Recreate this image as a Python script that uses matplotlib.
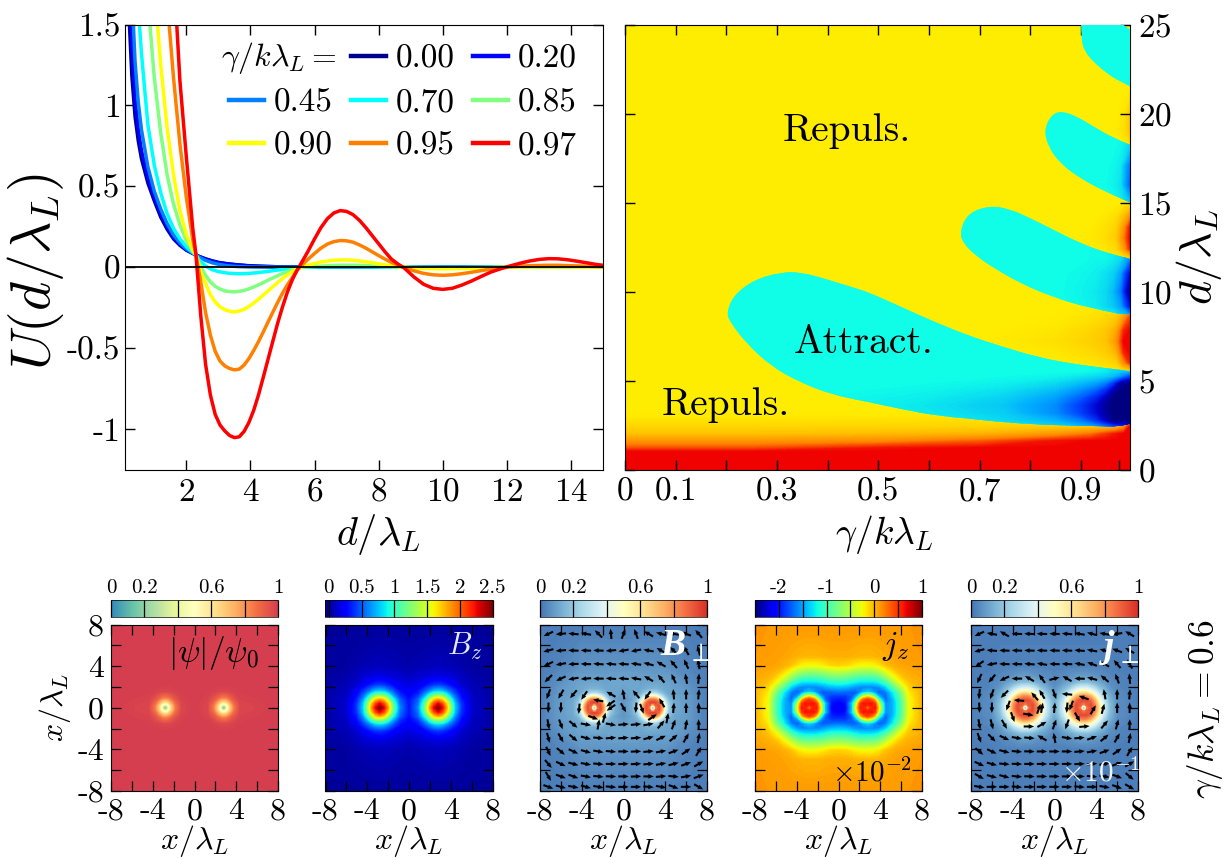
import numpy as np
import matplotlib
matplotlib.use("Agg")
from matplotlib import pyplot as plt
from matplotlib.cm import ScalarMappable
from matplotlib.colors import LinearSegmentedColormap, Normalize
from matplotlib.lines import Line2D
from matplotlib.patches import PathPatch
from matplotlib.path import Path

plt.rcParams['font.family'] = ['cmr10', 'DejaVu Serif']
plt.rcParams['mathtext.fontset'] = 'cm'
plt.rcParams['axes.unicode_minus'] = False
plt.rcParams['axes.formatter.use_mathtext'] = True

W, H = 1229, 858
nan = float('nan')

# top left: interaction curves
d_head = [0.2, 0.3, 0.4, 0.5, 0.6, 0.8, 1.0, 1.2, 1.4, 1.6, 1.8, 2.0, 2.2, 2.3]
d_coarse = d_head + [2.4, 2.6, 2.8, 3.0, 3.3, 3.6, 3.9, 4.2, 4.5, 4.8, 5.1, 5.4, 5.55, 5.8, 6.1, 6.5, 6.9,
                     7.3, 7.7, 8.1, 8.5, 8.8, 9.2, 9.6, 10.1, 10.6, 11.0, 11.5, 12.0, 12.4, 12.9, 13.3, 13.8, 14.4, 15.0]
d_fine = d_head + [2.45, 2.6, 2.75, 2.9, 3.05, 3.2, 3.35, 3.5, 3.65, 3.8, 3.95, 4.1, 4.25, 4.4, 4.55, 4.7, 4.85, 5.0,
                   5.15, 5.3, 5.45, 5.6,
                   5.8, 6.0, 6.2, 6.4, 6.6, 6.8, 7.0, 7.2, 7.4, 7.6, 7.8, 8.0, 8.2, 8.4, 8.6, 8.8,
                   9.1, 9.4, 9.7, 10.0, 10.3, 10.6, 10.9, 11.2, 11.5, 11.8, 12.1, 12.4, 12.7, 13.0, 13.3, 13.6,
                   13.9, 14.2, 14.5, 14.8, 15.0]
u_000 = [1.6, 1.18, .93, .78, .67, .52, .41, .31, .235, .175, .135, .105, .085, .076,
         .067, .052, .04, .03, .021, .015, .01, .007, .005, .003, .002, .001, .001] + [0] * 22
u_020 = [1.9, 1.36, 1.03, .85, .72, .55, .43, .33, .25, .185, .14, .108, .087, .076,
         .066, .05, .038, .028, .02, .014, .009, .006, .004, .003, .002, .001, .001] + [0] * 22
u_045 = [2.3, 1.7, 1.27, 1.02, .85, .62, .47, .36, .27, .2, .15, .113, .088, .076,
         .062, .042, .028, .018, .009, .004, .002, .001, .001, 0, 0, 0, 0] + [0] * 22
u_070 = [3.0, 2.6, 2.1, 1.6, 1.32, .88, .63, .46, .33, .24, .175, .127, .092, .076,
         .045, .008, -.015, -.027, -.037, -.04, -.039, -.034, -.027, -.019, -.011, -.004, -.001,
         .001, .002, .003, .003, .003, .002, .001, 0, 0, -.001, -.001, -.001, -.001, -.001, 0, 0, 0, 0, 0, 0, 0, 0]
u_085 = [4.0, 3.5, 3.0, 2.65, 2.3, 1.65, 1.17, .83, .57, .39, .26, .165, .1, .076,
         0, -.05, -.09, -.118, -.135, -.146, -.15, -.152, -.149, -.143, -.134, -.122, -.109, -.095, -.08, -.066,
         -.052, -.039, -.027, -.016, -.006, 0,
         .003, .005, .007, .009, .011, .012, .012, .012, .011, .01, .008, .006, .004, .003, .001, 0,
         -.001, -.002, -.002, -.003, -.003, -.003, -.002, -.002, -.001, -.001, 0, 0, 0, .001, .001, .001, .001, 0, 0, 0, 0]
u_090 = [5.0, 4.5, 4.0, 3.5, 3.1, 2.3, 1.75, 1.25, .86, .57, .35, .2, .105, .076,
         -.03, -.1, -.17, -.215, -.245, -.263, -.272, -.276, -.271, -.26, -.243, -.222, -.198, -.172, -.146, -.12,
         -.094, -.07, -.048, -.028, -.01, .002,
         .013, .023, .032, .038, .043, .045, .045, .043, .039, .034, .028, .021, .015, .009, .004, 0,
         -.004, -.007, -.009, -.01, -.009, -.008, -.006, -.004, -.003, -.001, 0, .001, .002, .002, .002, .002, .002,
         .001, .001, .001, .001]
u_095 = [7.0, 6.5, 6.0, 5.5, 5.0, 4.0, 3.0, 2.2, 1.65, 1.17, .76, .43, .17, .076,
         -.09, -.28, -.42, -.52, -.58, -.61, -.626, -.634, -.63, -.605, -.565, -.515, -.46, -.4, -.338, -.277,
         -.217, -.16, -.11, -.065, -.02, .012,
         .05, .085, .118, .143, .158, .165, .163, .155, .138, .118, .095, .072, .05, .03, .012, -.002,
         -.022, -.038, -.047, -.05, -.047, -.04, -.031, -.021, -.011, -.004, .002, .006, .009, .011, .012, .012,
         .01, .008, .006, .004, .003]
u_097 = [9.0, 8.5, 8.0, 7.5, 7.0, 6.0, 4.5, 3.2, 2.5, 1.85, 1.15, .68, .24, .076,
         -.30, -.6, -.79, -.91, -.975, -1.012, -1.04, -1.053, -1.048, -1.015, -.96, -.885, -.79, -.68, -.568, -.456,
         -.345, -.245, -.155, -.08, -.02, .03,
         .1, .175, .245, .3, .335, .35, .345, .325, .29, .245, .195, .145, .095, .05, .02, -.005,
         -.06, -.105, -.13, -.137, -.13, -.11, -.085, -.057, -.03, -.01, .008, .024, .038, .048, .053, .052,
         .046, .037, .027, .017, .012]
curves = [(d_coarse, u_000), (d_coarse, u_020), (d_coarse, u_045), (d_coarse, u_070),
          (d_fine, u_085), (d_fine, u_090), (d_fine, u_095), (d_fine, u_097)]
curve_names = ['0.00', '0.20', '0.45', '0.70', '0.85', '0.90', '0.95', '0.97']
curve_colors = ['#00008f', '#0000ff', '#0080ff', '#00ffff', '#80ff80', '#ffff00', '#ff8000', '#ff0000']

# top right: attractive lobes in (gamma, d), outlines
lobe_1 = [(.201, 8.89), (.216, 9.83), (.256, 10.67), (.308, 11.08), (.348, 11.08), (.40, 10.67), (.453, 10.2),
          (.483, 9.93), (.549, 9.08), (.615, 8.24), (.681, 7.49), (.746, 6.89), (.812, 6.33), (.878, 5.96),
          (.944, 5.71), (1.03, 5.42), (1.03, 2.38), (.878, 2.47), (.812, 2.53), (.746, 2.66), (.681, 2.85),
          (.615, 3.03), (.549, 3.37), (.483, 3.78), (.407, 4.21), (.341, 4.96), (.289, 5.8), (.242, 7.02), (.206, 8.33)]
lobe_2 = [(.661, 13.38), (.6774, 14.41), (.7202, 14.82), (.7597, 14.63), (.7992, 14.13), (.8454, 13.47), (.898, 12.72),
          (.9508, 12.16), (1.03, 11.6), (1.03, 8.45), (.9112, 9.11), (.8454, 9.69), (.786, 10.39), (.7334, 11.23),
          (.6938, 11.98), (.6675, 12.72)]
lobe_3 = [(.8276, 19.09), (.842, 19.93), (.8618, 20.13), (.8915, 19.84), (.9244, 19.27), (.964, 18.62), (1.03, 17.85),
          (1.03, 14.6), (.9508, 15.57), (.898, 16.37), (.8585, 17.22), (.8355, 18.15)]
lobe_4 = [(.9, 26), (.95, 26.5), (.965, 25.3), (1.03, 24.1), (1.03, 21.1), (.9771, 21.8), (.9508, 22.27),
          (.9244, 22.92), (.908, 23.48), (.9007, 24.14)]

# repulsive strength, 0 is yellow and 1 is red
rep_gamma = [0, .25, .5, .7, .85, .92, .95, .97, .985, .997]
rep_d = [0, 1.0, 1.2, 1.6, 2, 2.4, 3, 3.6, 5.4, 6, 6.6, 7.2, 7.8, 8.6, 9.5, 11.8, 12.4, 13, 13.6, 14.2, 15, 17,
         18.2, 19, 19.8, 21.4, 25]
rep_table = [
    [1, 1, 1, 1, 1, 1, 1, 1, 1, 1],
    [1, 1, 1, 1, 1, 1, 1, 1, 1, 1],
    [.8, .8, .95, 1, 1, 1, 1, 1, 1, 1],
    [.55, .55, .6, .75, .95, 1, 1, 1, 1, 1],
    [.32, .32, .35, .4, .55, .7, .85, .95, 1, 1],
    [.17, .17, .18, .2, .25, .3, .35, .4, .6, 1],
    [.03, .03, .04, .05, 0, 0, 0, 0, 0, 0],
    [0, 0, 0, 0, 0, 0, 0, 0, 0, 0],
    [0, 0, 0, 0, 0, 0, 0, 0, 0, 0],
    [0, 0, 0, 0, .02, .06, .12, .2, .6, .9],
    [0, 0, 0, 0, .05, .15, .25, .4, .9, 1],
    [0, 0, 0, .01, .1, .22, .3, .55, 1, 1],
    [0, 0, 0, 0, .06, .18, .28, .45, .9, 1],
    [0, 0, 0, 0, .02, .08, .15, .25, .5, .8],
    [0, 0, 0, 0, 0, 0, 0, 0, 0, 0],
    [0, 0, 0, 0, 0, 0, 0, 0, 0, .1],
    [0, 0, 0, 0, 0, .02, .06, .15, .5, .9],
    [0, 0, 0, 0, 0, .03, .12, .25, .65, 1],
    [0, 0, 0, 0, 0, .02, .1, .2, .55, .95],
    [0, 0, 0, 0, 0, 0, .05, .12, .35, .6],
    [0, 0, 0, 0, 0, 0, 0, 0, 0, .1],
    [0, 0, 0, 0, 0, 0, 0, 0, 0, 0],
    [0, 0, 0, 0, 0, 0, 0, 0, 0, .1],
    [0, 0, 0, 0, 0, 0, 0, .03, .1, .3],
    [0, 0, 0, 0, 0, 0, 0, .02, .08, .28],
    [0, 0, 0, 0, 0, 0, 0, 0, 0, 0],
    [0, 0, 0, 0, 0, 0, 0, 0, 0, 0],
]

# attractive strength inside the lobes, 0 is cyan and 1 is navy
att_gamma = [.2, .4, .6, .75, .85, .9, .93, .95, .965, .98, .997]
att_d = [2.4, 2.8, 3.2, 3.6, 4, 4.4, 4.8, 5.2, 5.5, 8.6, 9.2, 10, 11, 11.8, 15, 16, 17, 18.2, 21.4, 23, 25]
att_table = [
    [0, 0, .02, .05, .1, .15, .2, .3, .4, .5, .6],
    [0, 0, .04, .1, .2, .35, .55, .8, 1, 1, 1],
    [0, .01, .06, .13, .3, .5, .7, .9, 1, 1, 1],
    [0, .01, .07, .15, .3, .52, .72, .92, 1, 1, 1],
    [0, .01, .05, .12, .25, .42, .6, .8, 1, 1, 1],
    [0, 0, .03, .08, .18, .3, .42, .6, .85, 1, 1],
    [0, 0, .01, .04, .1, .18, .25, .35, .55, .9, 1],
    [0, 0, 0, .01, .03, .07, .1, .13, .18, .3, .5],
    [0, 0, 0, 0, 0, 0, .02, .05, .1, .12, .15],
    [0, 0, 0, 0, 0, 0, 0, 0, 0, .1, .15],
    [0, 0, 0, 0, 0, .02, .05, .1, .15, .25, .65],
    [0, 0, 0, 0, 0, .03, .06, .1, .18, .35, .95],
    [0, 0, 0, 0, 0, .02, .04, .08, .12, .25, .7],
    [0, 0, 0, 0, 0, 0, .02, .02, .05, .1, .3],
    [0, 0, 0, 0, 0, 0, 0, 0, 0, .05, .15],
    [0, 0, 0, 0, 0, 0, 0, .01, .03, .08, .4],
    [0, 0, 0, 0, 0, 0, 0, 0, .02, .06, .35],
    [0, 0, 0, 0, 0, 0, 0, 0, 0, .02, .1],
    [0, 0, 0, 0, 0, 0, 0, 0, 0, 0, .02],
    [0, 0, 0, 0, 0, 0, 0, 0, 0, 0, 0],
    [0, 0, 0, 0, 0, 0, 0, 0, 0, 0, 0],
]

# bottom panels: one quadrant of each field (x >= 0, y >= 0), mirrored when drawn
psi_x = [0, 1.2, 1.8, 2.2, 2.5, 2.65, 2.8, 2.95, 3.1, 3.4, 3.8, 4.4, 8]
psi_y = [0, .15, .3, .6, 1.0, 1.6, 2.4, 8]
psi_table = [
    [1, .98, .85, .65, .4, .2, .05, .2, .4, .65, .85, .98, 1],
    [1, .98, .85, .66, .44, .28, .2, .28, .44, .66, .85, .98, 1],
    [1, .98, .86, .68, .5, .44, .4, .44, .5, .68, .86, .98, 1],
    [1, .985, .9, .78, .68, .66, .65, .66, .68, .78, .9, .985, 1],
    [1, .99, .95, .9, .86, .85, .85, .85, .86, .9, .95, .99, 1],
    [1, .995, .99, .985, .98, .98, .98, .98, .98, .985, .99, .995, 1],
    [1, 1, 1, 1, 1, 1, 1, 1, 1, 1, 1, 1, 1],
    [1, 1, 1, 1, 1, 1, 1, 1, 1, 1, 1, 1, 1],
]

bz_x = [0, .9, 1.6, 2, 2.4, 2.8, 3.2, 3.6, 4, 4.4, 5, 6, 8]
bz_y = [0, .4, .8, 1.2, 1.6, 2.2, 3, 4, 8]
bz_table = [
    [.3, .6, 1.27, 1.82, 2.26, 2.5, 2.25, 1.8, 1.25, .78, .4, .12, .03],
    [.3, .55, 1.18, 1.67, 2.05, 2.25, 2.05, 1.67, 1.17, .74, .38, .12, .03],
    [.28, .5, .97, 1.35, 1.67, 1.8, 1.67, 1.35, .96, .62, .33, .11, .03],
    [.25, .38, .7, .97, 1.18, 1.25, 1.18, .97, .7, .5, .27, .1, .03],
    [.22, .3, .5, .62, .74, .78, .74, .62, .5, .38, .22, .09, .03],
    [.17, .2, .27, .33, .38, .4, .38, .33, .27, .22, .13, .07, .03],
    [.1, .13, .15, .16, .17, .18, .17, .16, .15, .13, .09, .05, .02],
    [.05, .06, .07, .07, .08, .08, .08, .07, .07, .06, .05, .03, .02],
    [.01, .01, .01, .01, .01, .01, .01, .01, .01, .01, .01, .01, .01],
]

bperp_x = [0, .8, 1.3, 1.6, 1.9, 2.2, 2.5, 2.65, 2.8, 2.95, 3.1, 3.4, 3.7, 4, 4.3, 4.8, 6, 8]
bperp_y = [0, .12, .25, .5, .8, 1.1, 1.4, 1.8, 2.6, 4, 8]
bperp_table = [
    [.07, .12, .22, .42, .78, .93, .8, .3, .05, .3, .8, .93, .78, .42, .22, .12, .09, .02],
    [.07, .12, .22, .42, .76, .93, .85, .4, .2, .4, .85, .93, .76, .42, .22, .12, .09, .02],
    [.07, .12, .21, .4, .74, .92, .9, .72, .65, .72, .9, .92, .74, .4, .21, .12, .09, .02],
    [.07, .12, .2, .33, .62, .86, .94, .95, .95, .95, .94, .86, .62, .33, .2, .12, .09, .02],
    [.07, .1, .16, .26, .42, .67, .82, .84, .85, .84, .82, .67, .42, .26, .16, .11, .09, .02],
    [.08, .11, .13, .18, .27, .38, .49, .52, .53, .52, .49, .38, .27, .18, .13, .11, .09, .02],
    [.09, .11, .11, .13, .17, .21, .25, .26, .26, .26, .25, .21, .17, .13, .11, .1, .08, .02],
    [.1, .11, .11, .11, .12, .13, .14, .14, .14, .14, .14, .13, .12, .11, .11, .1, .08, .02],
    [.11, .11, .11, .1, .1, .1, .1, .1, .1, .1, .1, .1, .1, .1, .1, .09, .06, .02],
    [.07, .07, .07, .07, .07, .07, .07, .07, .07, .07, .07, .07, .07, .07, .06, .05, .04, .02],
    [.02, .02, .02, .02, .02, .02, .02, .02, .02, .02, .02, .02, .02, .02, .02, .02, .02, .02],
]

jz_x = [0, .7, 1.3, 1.7, 2.1, 2.4, 2.8, 3.2, 3.5, 3.9, 4.5, 5.2, 6, 6.8, 8]
jz_y = [0, .4, .8, 1.1, 1.5, 2.0, 2.6, 3.3, 4.1, 5, 8]
jz_table = [
    [-2.15, -2.05, -1.4, -.25, .6, .55, .15, .55, .6, -.25, -1.6, -1.45, -.95, -.26, .02],
    [-2.1, -2.02, -1.35, -.45, .45, .62, .6, .62, .45, -.45, -1.6, -1.45, -.95, -.26, .02],
    [-2.0, -1.95, -1.7, -1.1, -.1, .25, .45, .25, -.1, -1.1, -1.72, -1.42, -.92, -.25, .02],
    [-1.9, -1.88, -1.75, -1.5, -.95, -.45, -.2, -.45, -.95, -1.5, -1.72, -1.35, -.85, -.22, .02],
    [-1.7, -1.72, -1.75, -1.74, -1.6, -1.45, -1.35, -1.45, -1.6, -1.74, -1.65, -1.25, -.75, -.18, .02],
    [-1.4, -1.42, -1.5, -1.55, -1.58, -1.6, -1.6, -1.6, -1.58, -1.55, -1.35, -.95, -.5, -.1, .03],
    [-1.0, -1.02, -1.1, -1.15, -1.2, -1.2, -1.2, -1.2, -1.18, -1.1, -.9, -.55, -.2, -.02, .05],
    [-.6, -.62, -.7, -.72, -.75, -.75, -.75, -.75, -.72, -.65, -.45, -.2, -.02, .04, .07],
    [-.1, -.12, -.18, -.22, -.25, -.26, -.26, -.25, -.22, -.18, -.05, .03, .07, .08, .1],
    [.04, .04, .03, .02, .01, .01, .01, .01, .02, .03, .05, .07, .09, .1, .12],
    [.12, .12, .12, .12, .12, .12, .12, .12, .12, .12, .12, .12, .12, .12, .12],
]

jperp_x = [0, .4, .9, 1.3, 1.7, 2.1, 2.5, 2.65, 2.8, 2.95, 3.1, 3.5, 3.9, 4.3, 4.7, 5.2, 6, 8]
jperp_y = [0, .12, .3, .7, 1.1, 1.5, 1.9, 2.4, 3, 4, 8]
jperp_table = [
    [.12, .2, .36, .58, .82, .94, .8, .3, .05, .3, .8, .94, .82, .58, .36, .18, .06, .02],
    [.12, .2, .36, .58, .82, .94, .85, .4, .2, .4, .85, .94, .82, .58, .36, .18, .06, .02],
    [.12, .2, .36, .56, .8, .94, .9, .85, .8, .85, .9, .94, .8, .56, .35, .18, .06, .02],
    [.12, .18, .31, .48, .72, .87, .94, .94, .94, .94, .94, .87, .72, .48, .31, .16, .06, .02],
    [.1, .15, .25, .38, .54, .72, .8, .82, .82, .82, .8, .72, .54, .38, .24, .14, .05, .02],
    [.08, .12, .19, .27, .38, .48, .56, .58, .58, .58, .56, .48, .38, .27, .19, .11, .05, .02],
    [.06, .09, .14, .18, .25, .31, .36, .36, .36, .36, .36, .31, .25, .18, .14, .08, .04, .02],
    [.05, .06, .09, .11, .13, .16, .18, .18, .18, .18, .18, .16, .13, .11, .09, .06, .04, .02],
    [.04, .05, .05, .06, .07, .08, .09, .09, .09, .09, .09, .08, .07, .06, .05, .04, .03, .02],
    [.03, .03, .03, .03, .03, .03, .03, .03, .03, .03, .03, .03, .03, .03, .03, .03, .02, .02],
    [.02, .02, .02, .02, .02, .02, .02, .02, .02, .02, .02, .02, .02, .02, .02, .02, .02, .02],
]

# arrow directions in degrees, rows from top to bottom, nan where the grid arrow is missing near a core
arrow_x = [-7.2, -6, -4.8, -3.6, -2.4, -1.2, 0, 1.2, 2.4, 3.6, 4.8, 6, 7.2]
arrow_y = [7.1, 5.5, 4.2, 2.8, 1.3, 0, -1.6, -2.9, -4.2, -5.4, -6.6, -7.6]
bperp_angle = [
    [205, 185, 175, 170, 135, 95, 70, 110, 150, 165, 170, 160, 130],
    [195, 185, 178, 178, 178, 185, 190, 190, 170, 150, 135, 120, 105],
    [205, 190, 182, 178, 176, 175, 176, 172, 165, 150, 130, 115, 100],
    [225, 205, 190, 185, 180, 176, 175, 170, 150, 130, 115, 100, 85],
    [250, 240, 230, nan, nan, 150, 100, 130, nan, nan, 95, 90, 85],
    [268, 268, nan, nan, nan, 215, 300, 265, nan, nan, 85, 90, 90],
    [280, 290, 320, 350, 80, 350, 5, 5, 10, 50, 70, 80, 90],
    [285, 300, 320, 345, 355, 5, 5, 5, 15, 25, 40, 60, 80],
    [295, 320, 335, 345, 350, 355, 0, 2, 5, 10, 20, 35, 60],
    [310, 335, 345, 350, 355, 0, 2, 3, 5, 10, 15, 20, 30],
    [300, 340, 340, 350, 355, 358, 0, 2, 0, 5, 355, 10, 20],
    [340, 345, 350, 345, 350, 355, 0, 0, 355, 350, 340, 0, 330],
]
jperp_angle = [
    [205, 170, 150, 178, 178, 178, 178, 175, 170, 165, 170, 190, 150],
    [195, 175, 178, 178, 178, 178, 178, 178, 175, 170, 165, 160, 150],
    [215, 190, 178, 178, 175, 170, 178, 178, 170, 160, 150, 130, 120],
    [245, 230, 205, 180, 150, 125, 15, 150, 178, 165, 140, 110, 95],
    [265, 250, 225, nan, nan, 120, 290, 175, nan, nan, 100, 90, 85],
    [272, 270, nan, nan, nan, 80, 85, 265, nan, nan, nan, 90, 90],
    [280, 285, 300, nan, nan, 30, 70, 250, nan, nan, 50, 75, 88],
    [290, 315, 335, 350, 355, 150, 100, 350, 5, 20, 40, 60, 80],
    [320, 335, 345, 355, 358, 0, 0, 0, 5, 10, 20, 35, 60],
    [335, 345, 355, 358, 0, 0, 0, 0, 2, 5, 10, 20, 30],
    [330, 345, 345, 355, 358, 0, 0, 0, 0, 355, 350, 340, 320],
    [350, 0, 0, 355, 0, 0, 0, 0, 355, 0, 350, 340, 330],
]
# arrows around the cores, they sit off the grid
bperp_core_x = [-3.77, -2.43, -4.25, -1.85, -2.9, -1.25, 2.3, 3.67, 1.76, 2.78, 4.2]
bperp_core_y = [1.18, .7, -.1, -.95, -.95, .4, 1.18, .48, -.1, -.9, -1.0]
bperp_core_a = [235, 170, 265, 75, 340, 215, 235, 120, 290, 35, 80]
jperp_core_x = [-3.4, -1.9, -4.45, -1.5, -2.5, -4.0, -2.45, 2.8, 3.7, 1.6, 2.2, 4.65, 2.87]
jperp_core_y = [.7, 1.1, .2, -.1, -.65, -.9, -1.8, .97, -.2, .2, -.9, -.1, -1.8]
jperp_core_a = [175, 130, 250, 70, 350, 290, 0, 160, 60, 250, 300, 75, 5]

spectral = LinearSegmentedColormap.from_list('spec', ['#3288bd', '#66c2a5', '#abdda4', '#e6f598', '#ffffbf',
                                                       '#fee08b', '#fdae61', '#f46d43', '#d53e4f'])
rdylbu = LinearSegmentedColormap.from_list('rdyl', ['#4575b4', '#74add1', '#abd9e9', '#e0f3f8', '#ffffbf',
                                                     '#fee090', '#fdae61', '#f46d43', '#d73027'])
rep_cmap = LinearSegmentedColormap.from_list('rep', ['#ffee00', '#ffc000', '#ff8000', '#f00000'])
att_cmap = LinearSegmentedColormap.from_list('att', ['#10ffe8', '#00a0ff', '#0040ff', '#0000d0', '#000080'])


def px_axes(x0, y0, x1, y1):
    return fig.add_axes([x0 / W, 1 - y1 / H, (x1 - x0) / W, (y1 - y0) / H])


def mirror(xs, ys, table):
    t = np.array(table, dtype=float)
    t = np.hstack([t[:, :0:-1], t])
    t = np.vstack([t[:0:-1], t])
    xs = np.array(xs, dtype=float)
    ys = np.array(ys, dtype=float)
    return np.r_[-xs[:0:-1], xs], np.r_[-ys[:0:-1], ys], t


def lobe_outline(points):
    # closed path through the midpoints, the read points are its control points
    pts = np.array(points, dtype=float)
    mids = (pts + np.roll(pts, -1, axis=0)) / 2
    verts = [mids[-1]]
    codes = [Path.MOVETO]
    for p, m in zip(pts, mids):
        verts += [p, m]
        codes += [Path.CURVE3, Path.CURVE3]
    return Path(verts, codes)


def draw_arrows(ax, xs, ys, angle):
    ang = np.radians(np.array(angle, dtype=float))
    ax.quiver(xs, ys, np.cos(ang), np.sin(ang), angles='xy', scale_units='xy', scale=1, units='xy',
              width=.2, headwidth=2.2, headlength=2.6, headaxislength=2.6, pivot='mid', color='black', zorder=4)


fig = plt.figure(figsize=(W / 100, H / 100), dpi=100)

# top left
ax = px_axes(124.5, 24.5, 603, 469.5)
for (d, u), col in zip(curves, curve_colors):
    ax.plot(d, u, color=col, lw=2.5, solid_joinstyle='round')
ax.axhline(0, color='black', lw=1.3, zorder=5)
ax.set_xlim(0.07, 15)
ax.set_ylim(-1.25, 1.5)
ax.set_xticks([2, 4, 6, 8, 10, 12, 14])
ax.set_yticks([-1, -.5, 0, .5, 1, 1.5])
ax.set_yticklabels(['-1', '-0.5', '0', '0.5', '1', '1.5'])
ax.tick_params(direction='in', length=7.5, width=1, top=True, right=True, labelsize=24, pad=6)
ax.tick_params(axis='y', pad=3)
ax.set_xlabel(r'$d/\lambda_L$', fontsize=29, va='center')
ax.xaxis.set_label_coords(.53, -.147)
ax.set_ylabel(r'$U(d/\lambda_L)$', fontsize=40, va='center')
ax.yaxis.set_label_coords(-.187, .444)
handles = [Line2D([], [], lw=0)]
for i in [2, 5, 0, 3, 6, 1, 4, 7]:
    handles.append(Line2D([], [], color=curve_colors[i], lw=3.2))
labels = [''] + [curve_names[i] for i in [2, 5, 0, 3, 6, 1, 4, 7]]
ax.legend(handles, labels, ncol=3, frameon=False, fontsize=24, handlelength=1.05, handletextpad=.3,
          columnspacing=.55, labelspacing=.42, loc='upper right', bbox_to_anchor=(.96, .97), borderaxespad=0,
          borderpad=.2)
ax.text(.444, .925, r'$\gamma/k\lambda_L=$', transform=ax.transAxes, fontsize=23, ha='right', va='center')

# top right
ax = px_axes(625, 24.5, 1130, 469.5)
ax.contourf(np.array(rep_gamma), np.array(rep_d), np.array(rep_table), levels=np.linspace(-.001, 1.001, 90), cmap=rep_cmap)
lobe_path = Path.make_compound_path(*[lobe_outline(lobe) for lobe in [lobe_1, lobe_2, lobe_3, lobe_4]])
lobe_patch = PathPatch(lobe_path, transform=ax.transData, fc='#10ffe8', ec='none', zorder=2)
ax.add_patch(lobe_patch)
att = ax.contourf(att_gamma, att_d, np.array(att_table), levels=np.linspace(-.001, 1.001, 90), cmap=att_cmap, zorder=3)
att.set_clip_path(lobe_patch)
ax.set_xlim(0, .997)
ax.set_ylim(0, 25)
ax.set_xticks([0, .1, .2, .3, .4, .5, .6, .7, .8, .9, .975])
ax.set_xticklabels(['0', '0.1', '', '0.3', '', '0.5', '', '0.7', '', '0.9', ''])
ax.set_yticks([0, 5, 10, 15, 20, 25])
ax.yaxis.tick_right()
ax.yaxis.set_label_position('right')
ax.tick_params(direction='in', length=7.5, width=1, top=True, left=True, right=True, labelsize=24, pad=6)
ax.set_axisbelow(False)
ax.set_xlabel(r'$\gamma/k\lambda_L$', fontsize=27, va='center')
ax.xaxis.set_label_coords(.514, -.147)
ax.set_ylabel(r'$d/\lambda_L$', fontsize=33, va='center')
ax.yaxis.set_label_coords(1.137, .478)
ax.text(.44, .76, 'Repuls.', fontsize=28.5, ha='center', va='center', transform=ax.transAxes, zorder=6)
ax.text(.473, .285, 'Attract.', fontsize=28.5, ha='center', va='center', transform=ax.transAxes, zorder=6)
ax.text(.2, .145, 'Repuls.', fontsize=28.5, ha='center', va='center', transform=ax.transAxes, zorder=6)

# bottom row
panels = [
    (111, psi_x, psi_y, psi_table, spectral, 0, 1, [0, .2, .4, .6, .8, 1], ['0', '0.2', '', '0.6', '', '1']),
    (325.5, bz_x, bz_y, bz_table, 'jet', -.05, 2.5, [0, .5, 1, 1.5, 2, 2.5], ['0', '0.5', '1', '1.5', '2', '2.5']),
    (540, bperp_x, bperp_y, bperp_table, rdylbu, 0, 1, [0, .2, .4, .6, .8, 1], ['0', '0.2', '', '0.6', '', '1']),
    (755, jz_x, jz_y, jz_table, 'jet', -2.5, 1, [-2.5, -2, -1.5, -1, -.5, 0, .5, 1], ['', '-2', '', '-1', '', '0', '', '1']),
    (971, jperp_x, jperp_y, jperp_table, rdylbu, 0, 1, [0, .2, .4, .6, .8, 1], ['0', '0.2', '', '0.6', '', '1']),
]
panel_axes = []
for n, (x0, xs, ys, table, cmap, vmin, vmax, cb_ticks, cb_labels) in enumerate(panels):
    ax = px_axes(x0, 624.5, x0 + 167, 791)
    X, Y, Z = mirror(xs, ys, table)
    ax.contourf(X, Y, Z, levels=np.linspace(vmin, vmax, 160), cmap=cmap, vmin=vmin, vmax=vmax, extend='both')
    ax.set_xlim(-8, 8)
    ax.set_ylim(-8, 8)
    ax.set_xticks(np.arange(-8, 9, 2))
    ax.set_xticklabels(['-8', '', '-4', '', '0', '', '4', '', '8'])
    ax.set_yticks(np.arange(-8, 9, 2))
    if n == 0:
        ax.set_yticklabels(['-8', '', '-4', '', '0', '', '4', '', '8'])
        ax.set_ylabel(r'$x/\lambda_L$', fontsize=23, va='center')
        ax.yaxis.set_label_coords(-.335, .5)
    else:
        ax.set_yticklabels([])
    ax.tick_params(direction='in', length=7, width=.9, top=True, right=True, labelsize=23, pad=5)
    ax.set_xlabel(r'$x/\lambda_L$', fontsize=23, va='center')
    ax.xaxis.set_label_coords(.5, -.3)
    panel_axes.append(ax)

    cax = px_axes(x0, 600, x0 + 167, 617)
    cb = fig.colorbar(ScalarMappable(Normalize(vmin, vmax), cmap), cax=cax, orientation='horizontal', ticks=cb_ticks)
    cb.outline.set_linewidth(.5)
    cb.ax.xaxis.set_ticks_position('top')
    cb.ax.set_xticklabels(cb_labels)
    cb.ax.tick_params(direction='in', length=12.2, width=.9, labelsize=15, pad=2)

# arrows on the two perpendicular panels
draw_arrows(panel_axes[2], arrow_x, arrow_y, bperp_angle)
draw_arrows(panel_axes[2], bperp_core_x, bperp_core_y, bperp_core_a)
draw_arrows(panel_axes[4], arrow_x, arrow_y, jperp_angle)
draw_arrows(panel_axes[4], jperp_core_x, jperp_core_y, jperp_core_a)

panel_axes[0].text(.617, .83, r'$|\psi|/\psi_0$', transform=panel_axes[0].transAxes, fontsize=24, ha='center', va='center')
panel_axes[1].text(.835, .87, r'$B_z$', transform=panel_axes[1].transAxes, fontsize=22, color='#e8e8ff', ha='center', va='center')
panel_axes[2].text(.87, .87, r'B$_\perp$', transform=panel_axes[2].transAxes, fontsize=27, color='white',
                   family='Liberation Serif', weight='bold', style='italic', ha='center', va='center', zorder=6)
panel_axes[3].text(.84, .87, r'$j_z$', transform=panel_axes[3].transAxes, fontsize=24, ha='center', va='center', zorder=6)
panel_axes[4].text(.89, .86, r'j$_\perp$', transform=panel_axes[4].transAxes, fontsize=27, color='white',
                   family='Liberation Serif', weight='bold', style='italic', ha='center', va='center', zorder=6)
panel_axes[3].text(.7, .11, r'$\times10^{-2}$', transform=panel_axes[3].transAxes, fontsize=21, ha='center', va='center', zorder=6)
panel_axes[4].text(.78, .11, r'$\times10^{-1}$', transform=panel_axes[4].transAxes, fontsize=21, color='#f4f4f4', ha='center', va='center', zorder=6)
fig.text(1205 / W, 1 - 709 / H, r'$\gamma/k\lambda_L=0.6$', fontsize=25.5, rotation=90, ha='center', va='center')

fig.savefig('out.png', dpi=100)
